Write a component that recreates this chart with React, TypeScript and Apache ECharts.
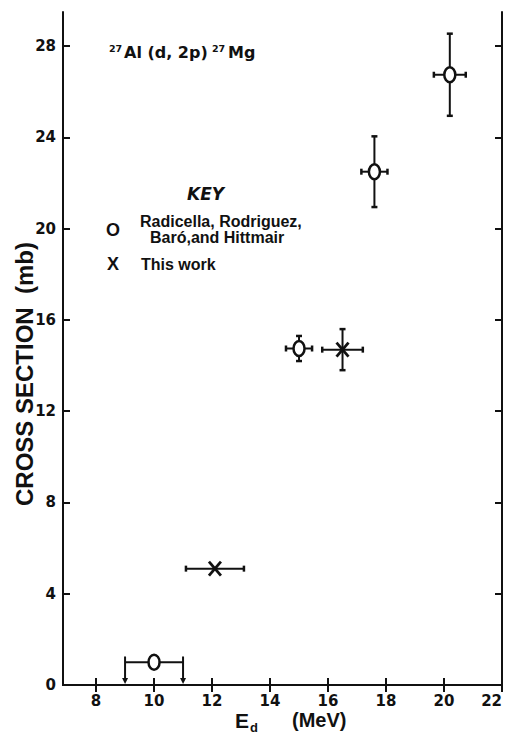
import React, { useEffect, useRef } from "react";
import * as echarts from "echarts";

// Energy (MeV), cross section (mb), x error half-width, y error low / high
const circleE = [15.0, 17.6, 20.2];
const circleSigma = [14.75, 22.5, 26.75];
const circleXErr = [0.45, 0.45, 0.55];
const circleYLow = [14.2, 20.95, 24.95];
const circleYHigh = [15.3, 24.05, 28.55];

// Upper-limit point (circle with arrows)
const limitE = [10.0];
const limitSigma = [1.0];
const limitXLow = [9.0];
const limitXHigh = [11.0];
const limitTop = [1.25];

// This work (X markers)
const crossE = [12.1, 16.5];
const crossSigma = [5.1, 14.7];
const crossXErr = [1.0, 0.7];
const crossYLow = [5.1, 13.8];
const crossYHigh = [5.1, 15.6];

const xTicks = [8, 10, 12, 14, 16, 18, 20, 22];
const yTicks = [0, 4, 8, 12, 16, 20, 24, 28];

const FONT = "Liberation Sans";
const DFONT = "DejaVu Sans";
const INK = "#111";

function capH(x: number, y: number, h: number) {
  return { type: "line", shape: { x1: x, y1: y - h, x2: x, y2: y + h }, style: { stroke: INK, lineWidth: 2.5 } };
}
function capV(x: number, y: number, w: number) {
  return { type: "line", shape: { x1: x - w, y1: y, x2: x + w, y2: y }, style: { stroke: INK, lineWidth: 2.5 } };
}

export default function App() {
  const ref = useRef<HTMLDivElement>(null);
  useEffect(() => {
    if (!ref.current) return;
    document.body.style.margin = "0";
    document.body.style.overflow = "hidden";
    const chart = echarts.init(ref.current, null, { renderer: "svg" });

    const circleData = circleE.map((e, i) => [e, circleSigma[i], e - circleXErr[i], e + circleXErr[i], circleYLow[i], circleYHigh[i]]);
    const crossData = crossE.map((e, i) => [e, crossSigma[i], e - crossXErr[i], e + crossXErr[i], crossYLow[i], crossYHigh[i]]);
    const limitData = limitE.map((e, i) => [e, limitSigma[i], limitXLow[i], limitXHigh[i], limitTop[i]]);

    const errBars = (api: any, withY: boolean) => {
      const c = api.coord([api.value(0), api.value(1)]);
      const l = api.coord([api.value(2), api.value(1)]);
      const r = api.coord([api.value(3), api.value(1)]);
      const lo = api.coord([api.value(0), api.value(4)]);
      const hi = api.coord([api.value(0), api.value(5)]);
      const ch: any[] = [
        { type: "line", shape: { x1: l[0], y1: c[1], x2: r[0], y2: c[1] }, style: { stroke: INK, lineWidth: 2 } },
        capH(l[0], c[1], 3),
        capH(r[0], c[1], 3),
      ];
      if (withY && Math.abs(hi[1] - lo[1]) > 1) {
        ch.push({ type: "line", shape: { x1: c[0], y1: lo[1], x2: c[0], y2: hi[1] }, style: { stroke: INK, lineWidth: 2 } });
        ch.push(capV(c[0], lo[1], 3));
        ch.push(capV(c[0], hi[1], 3));
      }
      return { c, ch };
    };

    const axisCommon = {
      axisLine: { show: true, lineStyle: { color: INK, width: 2 } },
      splitLine: { show: false },
    };

    const option: any = {
      animation: false,
      backgroundColor: "#fff",
      grid: { left: 63, right: 4, top: 12, bottom: 49, containLabel: false },
      xAxis: [
        {
          type: "value",
          min: 6.86,
          max: 22,
          ...axisCommon,
          axisTick: { show: true, inside: true, length: 7, customValues: xTicks, lineStyle: { color: INK, width: 2 } },
          axisLabel: { customValues: xTicks, margin: 8, alignMaxLabel: "right", color: INK, fontFamily: DFONT, fontWeight: "bold", fontSize: 15 },
        },
        {
          type: "value",
          position: "top",
          min: 6.86,
          max: 22,
          ...axisCommon,
          axisTick: { show: true, inside: true, length: 7, customValues: xTicks, lineStyle: { color: INK, width: 2 } },
          axisLabel: { show: false },
        },
      ],
      yAxis: [
        {
          type: "value",
          min: 0,
          max: 29.5,
          ...axisCommon,
          axisTick: { show: true, inside: true, length: 7, customValues: yTicks, lineStyle: { color: INK, width: 2 } },
          axisLabel: { customValues: yTicks, margin: 7, color: INK, fontFamily: DFONT, fontWeight: "bold", fontSize: 15 },
        },
        {
          type: "value",
          position: "right",
          min: 0,
          max: 29.5,
          ...axisCommon,
          axisTick: { show: true, inside: true, length: 7, customValues: yTicks, lineStyle: { color: INK, width: 2 } },
          axisLabel: { show: false },
        },
      ],
      series: [
        {
          type: "custom",
          name: "Radicella",
          data: circleData,
          renderItem: (_p: any, api: any) => {
            const { c, ch } = errBars(api, true);
            ch.push({ type: "ellipse", shape: { cx: c[0], cy: c[1], rx: 5.5, ry: 7.5 }, style: { fill: "#fff", stroke: INK, lineWidth: 2.5 } });
            return { type: "group", children: ch };
          },
        },
        {
          type: "custom",
          name: "Limit",
          data: limitData,
          renderItem: (_p: any, api: any) => {
            const c = api.coord([api.value(0), api.value(1)]);
            const l = api.coord([api.value(2), api.value(1)]);
            const r = api.coord([api.value(3), api.value(1)]);
            const top = api.coord([api.value(0), api.value(4)])[1];
            const bot = api.coord([api.value(0), 0])[1];
            const ch: any[] = [
              { type: "line", shape: { x1: l[0], y1: c[1], x2: r[0], y2: c[1] }, style: { stroke: INK, lineWidth: 2 } },
            ];
            [l[0], r[0]].forEach((x) => {
              ch.push({ type: "line", shape: { x1: x, y1: top, x2: x, y2: bot - 4 }, style: { stroke: INK, lineWidth: 2 } });
              ch.push({ type: "polygon", shape: { points: [[x - 3, bot - 7], [x + 3, bot - 7], [x, bot - 1]] }, style: { fill: INK } });
            });
            ch.push({ type: "ellipse", shape: { cx: c[0], cy: c[1], rx: 5.5, ry: 7.5 }, style: { fill: "#fff", stroke: INK, lineWidth: 2.5 } });
            return { type: "group", children: ch };
          },
        },
        {
          type: "custom",
          name: "This work",
          data: crossData,
          renderItem: (_p: any, api: any) => {
            const { c, ch } = errBars(api, true);
            ch.push({ type: "line", shape: { x1: c[0] - 6, y1: c[1] - 7, x2: c[0] + 6, y2: c[1] + 7 }, style: { stroke: INK, lineWidth: 2.8 } });
            ch.push({ type: "line", shape: { x1: c[0] + 6, y1: c[1] - 7, x2: c[0] - 6, y2: c[1] + 7 }, style: { stroke: INK, lineWidth: 2.8 } });
            return { type: "group", children: ch };
          },
        },
      ],
      graphic: [
        { type: "text", x: 109, y: 43, style: { text: "27", fontFamily: DFONT, fontWeight: "bold", fontSize: 9.5, fill: INK } },
        { type: "text", x: 124, y: 52, style: { text: "Al (d, 2p)", fontFamily: DFONT, fontWeight: "bold", fontSize: 16, fill: INK, verticalAlign: "middle" } },
        { type: "text", x: 212, y: 43, style: { text: "27", fontFamily: DFONT, fontWeight: "bold", fontSize: 9.5, fill: INK } },
        { type: "text", x: 228, y: 52, style: { text: "Mg", fontFamily: DFONT, fontWeight: "bold", fontSize: 16, fill: INK, verticalAlign: "middle" } },
        { type: "text", x: 187, y: 194, style: { text: "KEY", fontFamily: DFONT, fontWeight: "bold", fontStyle: "italic", fontSize: 17, fill: INK, verticalAlign: "middle" } },
        { type: "text", x: 106, y: 230, style: { text: "O", fontFamily: FONT, fontWeight: "bold", fontSize: 18, fill: INK, verticalAlign: "middle" } },
        { type: "text", x: 140, y: 221, style: { text: "Radicella, Rodriguez,", fontFamily: FONT, fontWeight: "bold", fontSize: 16, fill: INK, verticalAlign: "middle" } },
        { type: "text", x: 150, y: 237, style: { text: "Baró,and Hittmair", fontFamily: FONT, fontWeight: "bold", fontSize: 16, fill: INK, verticalAlign: "middle" } },
        { type: "text", x: 107, y: 264, style: { text: "X", fontFamily: FONT, fontWeight: "bold", fontSize: 18, fill: INK, verticalAlign: "middle" } },
        { type: "text", x: 141, y: 264, style: { text: "This work", fontFamily: FONT, fontWeight: "bold", fontSize: 16, fill: INK, verticalAlign: "middle" } },
        {
          type: "text",
          x: 24,
          y: 374,
          rotation: Math.PI / 2,
          style: { text: "CROSS SECTION  (mb)", fontFamily: FONT, fontWeight: "bold", fontSize: 24, fill: INK, align: "center", verticalAlign: "middle" },
        },
        { type: "text", x: 235, y: 720, style: { text: "E", fontFamily: FONT, fontWeight: "bold", fontSize: 21, fill: INK, verticalAlign: "middle" } },
        { type: "text", x: 250, y: 727, style: { text: "d", fontFamily: FONT, fontWeight: "bold", fontSize: 13, fill: INK, verticalAlign: "middle" } },
        { type: "text", x: 292, y: 720, style: { text: "(MeV)", fontFamily: FONT, fontWeight: "bold", fontSize: 20, fill: INK, verticalAlign: "middle" } },
      ],
    };
    chart.setOption(option);
    return () => chart.dispose();
  }, []);
  return <div ref={ref} style={{ width: 506, height: 734 }} />;
}
